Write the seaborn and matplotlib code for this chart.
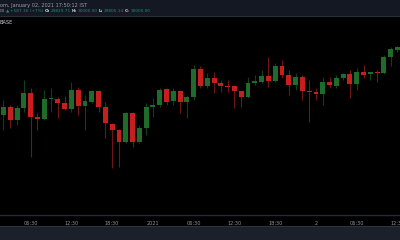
import matplotlib
matplotlib.use("Agg")
import matplotlib.pyplot as plt
import seaborn as sns
import pandas as pd
import numpy as np
from matplotlib.patches import Rectangle
from matplotlib.lines import Line2D

# ---- data (hourly candles) ----
opens = [29480, 29544, 29440, 29536, 29656, 29464, 29448, 29608, 29608, 29576,
         29528, 29680, 29552, 29584, 29672, 29544, 29408, 29360, 29264, 29496,
         29264, 29376, 29544, 29560, 29688, 29592, 29672, 29584, 29624, 29848,
         29712, 29776, 29736, 29716, 29712, 29672, 29624, 29736, 29744, 29792,
         29752, 29872, 29800, 29720, 29784, 29674, 29664, 29648, 29744, 29712,
         29776, 29808, 29728, 29824, 29808, 29824, 29816, 29944, 30000]
highs = [29600, 29560, 29560, 29760, 29696, 29496, 29680, 29696, 29624, 29632,
         29744, 29704, 29640, 29680, 29680, 29584, 29416, 29368, 29504, 29504,
         29400, 29576, 29616, 29696, 29696, 29696, 29680, 29640, 29880, 29872,
         29816, 29824, 29760, 29760, 29720, 29680, 29784, 29800, 29840, 29944,
         29896, 29920, 29840, 29816, 29800, 29760, 29696, 29784, 29784, 29800,
         29816, 29840, 29856, 29880, 29824, 29840, 29960, 30024, 30032]
lows = [29360, 29376, 29400, 29504, 29144, 29360, 29440, 29504, 29456, 29520,
        29504, 29480, 29360, 29576, 29504, 29296, 29056, 29064, 29256, 29224,
        29256, 29320, 29464, 29544, 29560, 29560, 29496, 29456, 29600, 29696,
        29696, 29656, 29664, 29664, 29536, 29544, 29616, 29720, 29736, 29704,
        29744, 29776, 29640, 29680, 29600, 29424, 29600, 29560, 29696, 29696,
        29760, 29616, 29680, 29776, 29760, 29744, 29808, 29872, 29984]
closes = [29544, 29440, 29536, 29656, 29464, 29448, 29608, 29616, 29576, 29528,
          29680, 29552, 29592, 29672, 29544, 29416, 29360, 29264, 29496, 29264,
          29376, 29544, 29560, 29680, 29584, 29672, 29584, 29624, 29848, 29712,
          29776, 29736, 29712, 29706, 29672, 29624, 29736, 29752, 29792, 29752,
          29872, 29800, 29720, 29784, 29672, 29666, 29648, 29744, 29720, 29776,
          29808, 29728, 29824, 29800, 29824, 29816, 29944, 30008, 30024]
tick_labels = ["06:30", "12:30", "18:30", "2021", "06:30", "12:30", "18:30", "2", "06:30", "12:30"]

df = pd.DataFrame({"open": opens, "high": highs, "low": lows, "close": closes})
df["idx"] = np.arange(len(df))
df["up"] = df["close"] >= df["open"]

sns.set_theme(style="dark")
plt.rcParams["font.family"] = ["DejaVu Sans"]

BG = "#000000"
UP_BODY, DN_BODY = "#1e6b2b", "#c81e1e"
UP_WICK, DN_WICK = "#123f19", "#6e1515"

fig = plt.figure(figsize=(4, 2.4), dpi=100, facecolor=BG)
ax = fig.add_axes([0, 25 / 240, 1, 199 / 240])
ax.set_facecolor(BG)

# wicks
wick_colors = [UP_WICK if u else DN_WICK for u in df["up"]]
ax.vlines(df["idx"], df["low"], df["high"], colors=wick_colors, linewidth=0.8, zorder=2)

# bodies
bottom = df[["open", "close"]].min(axis=1)
height = (df["close"] - df["open"]).abs().clip(lower=9)
body_colors = [UP_BODY if u else DN_BODY for u in df["up"]]
ax.bar(df["idx"], height, bottom=bottom, width=0.72, color=body_colors,
       linewidth=0, zorder=3)

ax.set_xlim(-0.515, 58.37)
ax.set_ylim(28680, 30272)
ax.set_yticks([])
ax.set_xticks(np.arange(4, len(df), 6))
ax.set_xticklabels(tick_labels)
ax.tick_params(axis="x", colors="#4a4e59", length=1.5, width=0.6, pad=2.5,
               labelsize=3.6, labelcolor="#8f939c")
for s in ["top", "left", "right"]:
    ax.spines[s].set_visible(False)
ax.spines["bottom"].set_color("#262a35")
ax.spines["bottom"].set_linewidth(1.0)
ax.grid(False)
ax.set_xlabel("")
ax.set_ylabel("")

# header bar
fig.patches.append(Rectangle((0, 224 / 240), 1, 16 / 240, transform=fig.transFigure,
                             facecolor="#141823", edgecolor="none", zorder=0))
fig.lines.append(Line2D([0, 1], [224 / 240, 224 / 240], transform=fig.transFigure,
                        color="#2a2e39", linewidth=0.8))
# footer bar
fig.patches.append(Rectangle((0, 0), 1, 14 / 240, transform=fig.transFigure,
                             facecolor="#1c202b", edgecolor="none", zorder=0))
fig.lines.append(Line2D([0, 1], [14 / 240, 14 / 240], transform=fig.transFigure,
                        color="#2f333e", linewidth=0.8))

def px(x, y):
    return x / 400, 1 - y / 240

fs = 3.6
fig.text(*px(0, 5), "om, January 02, 2021 17:50:12 IST", color="#9a9da6",
         fontsize=fs, va="center", ha="left")
teal = "#1e8c7e"
white = "#d1d4dc"
segs = [("00", "#9a9da6", 1.0), ("▲", teal, 0.8), ("+587.16 (+7%)", teal, 1.2),
        ("O:", white, 0.4), ("29829.71", teal, 1.2),
        ("H:", white, 0.4), ("30000.00", teal, 1.2),
        ("L:", white, 0.4), ("29805.14", teal, 1.2),
        ("C:", white, 0.4), ("30000.00", teal, 0)]
renderer = fig.canvas.get_renderer()
x = 0.0
for s, c, gap in segs:
    t = fig.text(*px(x, 11.5), s, color=c, fontsize=3.1, va="center", ha="left",
                 fontweight="bold" if c == white else "normal")
    bb = t.get_window_extent(renderer=renderer)
    x += bb.width + gap
fig.text(*px(0, 23), "BASE", color="#c8cbd3", fontsize=fs, va="center", ha="left")

fig.savefig("out.png", dpi=100, facecolor=BG)
